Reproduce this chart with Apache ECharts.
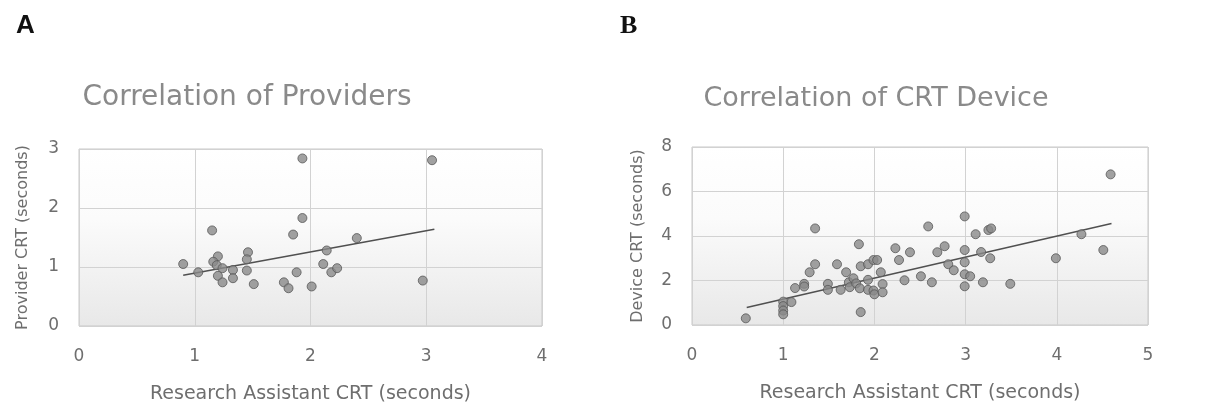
<!DOCTYPE html>
<html>
<head>
<meta charset="utf-8">
<script src="https://cdn.jsdelivr.net/npm/echarts@6/dist/echarts.min.js"></script>
<style>
  html, body { margin: 0; padding: 0; background: #fff; }
  #chart { width: 1215px; height: 408px; }
</style>
</head>
<body>
<div id="chart"></div>
<script>
// Panel A: research assistant vs provider CRT (seconds)
const providerX = [1.93, 3.05, 1.93, 1.15, 1.85, 2.40, 2.14, 0.90, 1.03, 1.20,
                   1.16, 1.19, 1.24, 1.20, 1.24, 1.33, 1.33, 1.46, 1.45, 1.45,
                   1.51, 1.77, 1.81, 1.88, 2.01, 2.11, 2.18, 2.23, 2.97];
const providerY = [2.84, 2.81, 1.83, 1.62, 1.55, 1.49, 1.28, 1.05, 0.91, 1.18,
                   1.09, 1.03, 0.98, 0.85, 0.74, 0.95, 0.81, 1.25, 1.13, 0.94,
                   0.71, 0.74, 0.64, 0.91, 0.67, 1.05, 0.91, 0.98, 0.77];
const providerTrend = [[0.90, 0.86], [3.07, 1.64]];

// Panel B: research assistant vs device CRT (seconds)
const deviceX = [0.59, 1.00, 1.00, 1.00, 1.00, 1.09, 1.13, 1.23, 1.23, 1.29,
                 1.35, 1.35, 1.49, 1.49, 1.59, 1.63, 1.69, 1.72, 1.73, 1.77,
                 1.80, 1.83, 1.84, 1.85, 1.85, 1.93, 1.93, 1.93, 1.99, 2.03,
                 1.99, 2.00, 2.07, 2.09, 2.09, 2.23, 2.27, 2.33, 2.39, 2.51,
                 2.59, 2.63, 2.69, 2.77, 2.81, 2.87, 2.99, 2.99, 2.99, 2.99,
                 2.99, 3.05, 3.11, 3.17, 3.19, 3.25, 3.28, 3.27, 3.49, 3.99,
                 4.27, 4.51, 4.59];
const deviceY = [0.30, 1.05, 0.85, 0.65, 0.48, 1.03, 1.66, 1.85, 1.73, 2.37,
                 2.73, 4.34, 1.85, 1.58, 2.73, 1.58, 2.37, 1.92, 1.70, 2.10,
                 1.87, 3.63, 1.65, 2.64, 0.58, 2.73, 2.03, 1.58, 2.92, 2.92,
                 1.55, 1.38, 2.37, 1.84, 1.47, 3.45, 2.92, 2.01, 3.27, 2.19,
                 4.43, 1.92, 3.27, 3.54, 2.73, 2.46, 4.88, 3.37, 2.82, 2.28,
                 1.74, 2.19, 4.08, 3.28, 1.92, 4.27, 4.34, 3.00, 1.85, 3.00,
                 4.08, 3.37, 6.77];
const deviceTrend = [[0.60, 0.79], [4.60, 4.56]];

const xAxisName = 'Research Assistant CRT (seconds)';
const gray = '#6e6e6e';
const font = 'DejaVu Sans';

const pairs = (xs, ys) => xs.map((x, i) => [x, ys[i]]);

const plotFill = new echarts.graphic.LinearGradient(0, 0, 0, 1, [
  { offset: 0, color: '#ffffff' },
  { offset: 0.4, color: '#fbfbfb' },
  { offset: 1, color: '#e8e8e8' }
]);

function gridBox(left, top, width, height) {
  return {
    left, top, width, height, show: true,
    backgroundColor: plotFill, borderColor: '#c9c9c9', borderWidth: 1
  };
}

function valueAxis(idx, max, interval, name, nameGap, isY) {
  return {
    type: 'value', gridIndex: idx, min: 0, max, interval,
    name, nameLocation: 'middle', nameGap,
    nameTextStyle: { fontFamily: font, fontSize: isY ? 16 : 19, color: gray },
    axisLine: { show: false }, axisTick: { show: false },
    axisLabel: { fontFamily: font, fontSize: 17, color: gray, margin: isY ? 20 : 22 },
    splitLine: { show: true, lineStyle: { color: '#d2d2d2', width: 1 } }
  };
}

const dotStyle = { color: '#8a8a8a', borderColor: '#585858', borderWidth: 1 };
const trendStyle = { color: '#505050', width: 1.5 };

const chart = echarts.init(document.getElementById('chart'), null, { renderer: 'canvas' });
chart.setOption({
  animation: false,
  title: [
    { text: 'A', left: 11, top: 8, textStyle: { fontFamily: 'Liberation Sans', fontWeight: 'bold', fontSize: 26, color: '#111' } },
    { text: 'B', left: 615, top: 8, textStyle: { fontFamily: 'Liberation Serif', fontWeight: 'bold', fontSize: 26, color: '#111' } },
    { text: 'Correlation of Providers', left: 242, top: 79, textAlign: 'center',
      textStyle: { fontFamily: font, fontWeight: 'normal', fontSize: 28, color: '#8a8a8a' } },
    { text: 'Correlation of CRT Device', left: 871, top: 80, textAlign: 'center',
      textStyle: { fontFamily: font, fontWeight: 'normal', fontSize: 27, color: '#8a8a8a' } }
  ],
  grid: [gridBox(79, 149, 463, 177), gridBox(692, 147, 456, 178)],
  xAxis: [
    valueAxis(0, 4, 1, xAxisName, 59, false),
    valueAxis(1, 5, 1, xAxisName, 59, false)
  ],
  yAxis: [
    valueAxis(0, 3, 1, 'Provider CRT (seconds)', 48, true),
    valueAxis(1, 8, 2, 'Device CRT (seconds)', 46, true)
  ],
  series: [
    { type: 'scatter', xAxisIndex: 0, yAxisIndex: 0, data: pairs(providerX, providerY),
      symbolSize: 9, itemStyle: dotStyle },
    { type: 'line', xAxisIndex: 0, yAxisIndex: 0, data: providerTrend,
      showSymbol: false, lineStyle: trendStyle, z: 1 },
    { type: 'scatter', xAxisIndex: 1, yAxisIndex: 1, data: pairs(deviceX, deviceY),
      symbolSize: 9, itemStyle: dotStyle },
    { type: 'line', xAxisIndex: 1, yAxisIndex: 1, data: deviceTrend,
      showSymbol: false, lineStyle: trendStyle, z: 1 }
  ]
});
</script>
</body>
</html>
